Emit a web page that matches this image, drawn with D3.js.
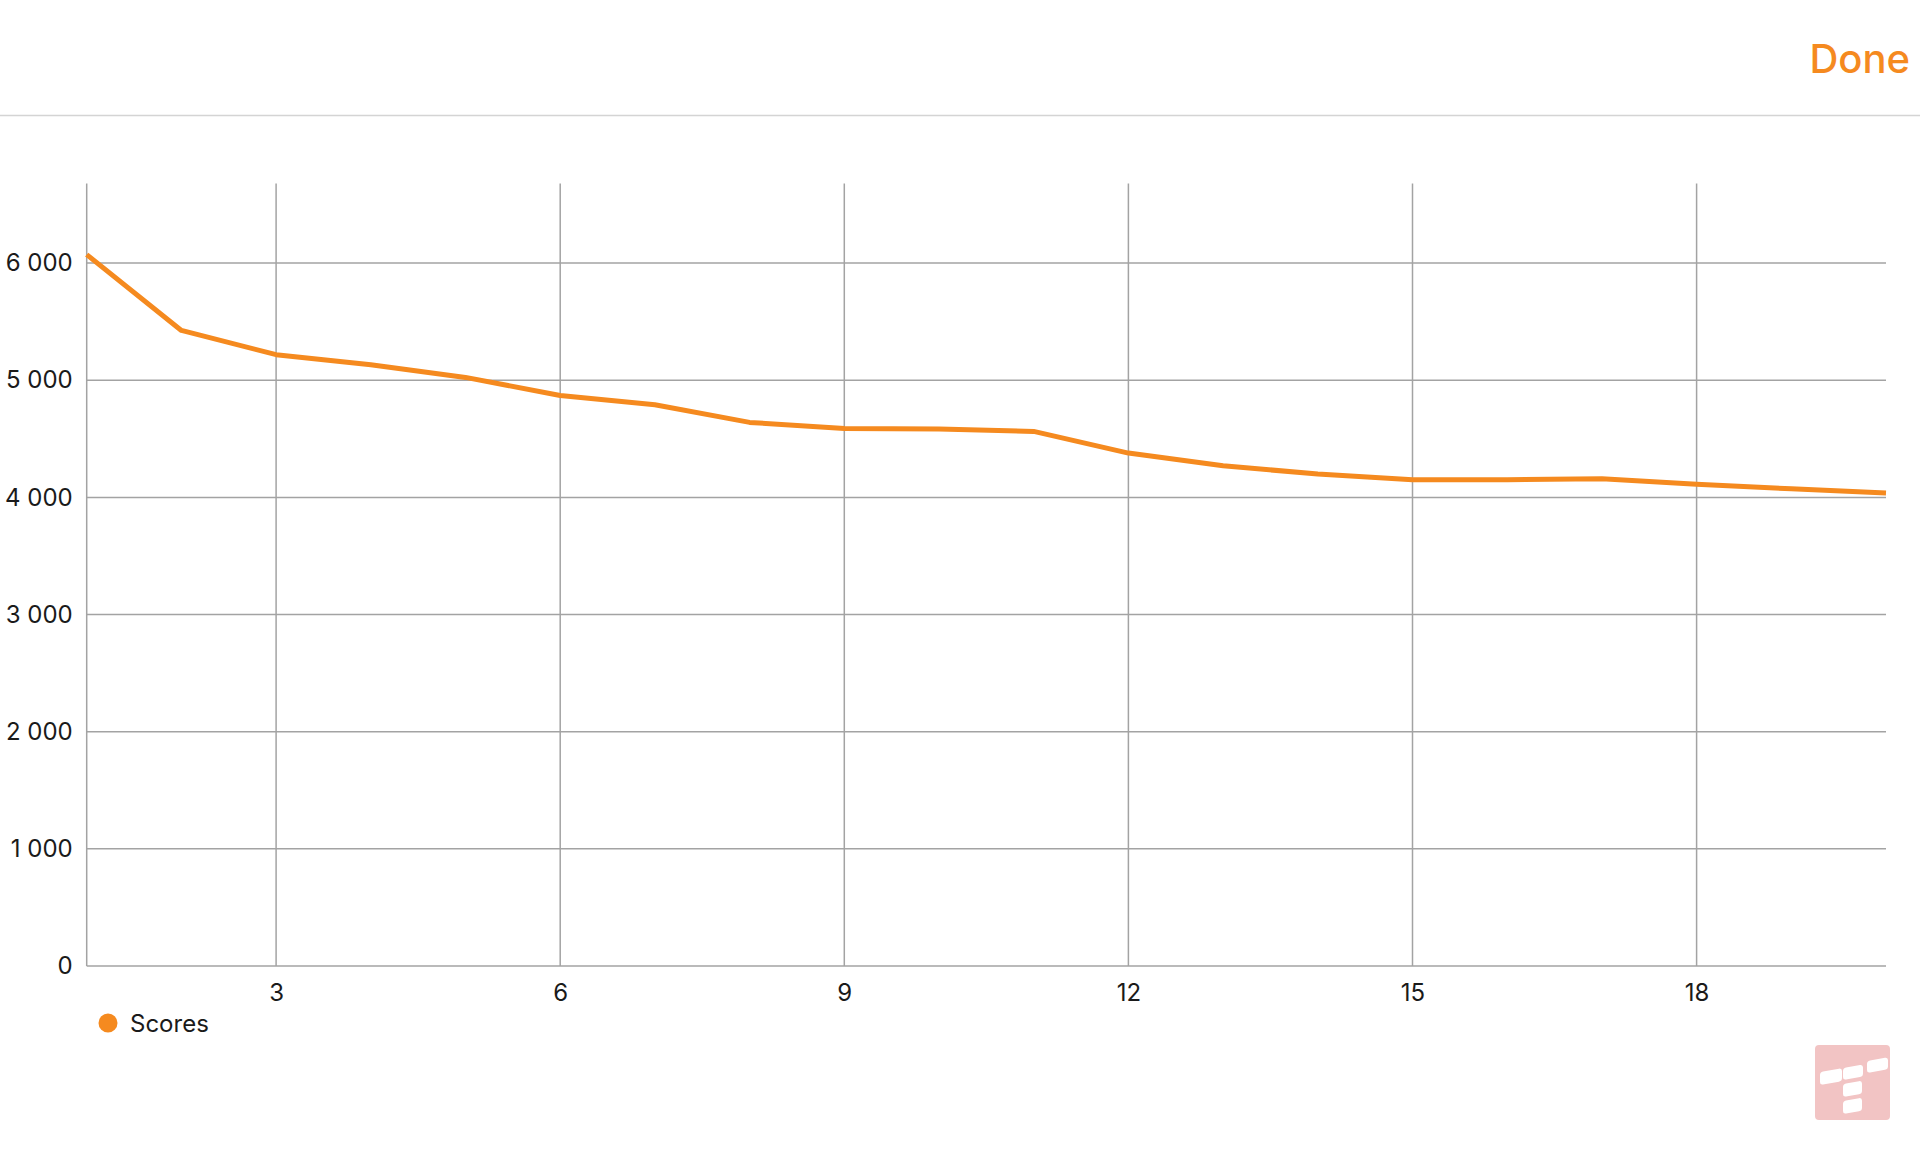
<!DOCTYPE html>
<html>
<head>
<meta charset="utf-8">
<script src="https://cdn.jsdelivr.net/npm/d3@7"></script>
<style>
    html, body { margin: 0; padding: 0; background: #fff; }
    svg { display: block; font-family: Inter, "Noto Sans", sans-serif; }
</style>
</head>
<body>
<div id="chart"></div>
<script>
// data
const rounds = [1, 2, 3, 4, 5, 6, 7, 8, 9, 10, 11, 12, 13, 14, 15, 16, 17, 18, 19, 20];
const scores = [6072, 5425, 5218, 5132, 5024, 4870, 4791, 4640, 4588, 4583,
                4563, 4378, 4270, 4199, 4150, 4150, 4159, 4113, 4073, 4037];
const xTicks = [3, 6, 9, 12, 15, 18];
const yTicks = [0, 1000, 2000, 3000, 4000, 5000, 6000];
const seriesName = "Scores";
const headerLabel = "Done";

const W = 1920, H = 1152;
const orange = "#f58a1f";
const gridColor = "#a3a3a3";

const margin = { top: 183.5, right: 34, bottom: 186, left: 86.7 };

const svg = d3.select("#chart").append("svg")
    .attr("width", W)
    .attr("height", H);

// HEADER
svg.append("text")
    .text(headerLabel)
    .attr("x", 1910)
    .attr("y", 73)
    .attr("text-anchor", "end")
    .style("font-size", "40px")
    .style("font-weight", 500)
    .style("fill", orange);

svg.append("line")
    .attr("x1", 0).attr("x2", W)
    .attr("y1", 115.5).attr("y2", 115.5)
    .style("stroke", "#d4d4d4")
    .style("stroke-width", 1.5);

// SCALES
const x = d3.scaleLinear()
    .domain([1, d3.max(rounds)])
    .range([margin.left, W - margin.right]);

const y = d3.scaleLinear()
    .domain([0, d3.max(scores) * 1.1])
    .range([H - margin.bottom, margin.top]);

// GRID
const grid = svg.append("g");

grid.selectAll(".hgrid").data(yTicks).enter()
    .append("line")
    .attr("class", "hgrid")
    .attr("x1", x.range()[0]).attr("x2", x.range()[1])
    .attr("y1", d => y(d)).attr("y2", d => y(d))
    .style("stroke", gridColor)
    .style("stroke-width", 1.5);

grid.selectAll(".vgrid").data([1].concat(xTicks)).enter()
    .append("line")
    .attr("class", "vgrid")
    .attr("x1", d => x(d)).attr("x2", d => x(d))
    .attr("y1", y.range()[1]).attr("y2", y.range()[0])
    .style("stroke", gridColor)
    .style("stroke-width", 1.5);

// AXES
const yAxis = svg.append("g")
    .attr("transform", "translate(" + margin.left + ",0)")
    .call(d3.axisLeft(y)
        .tickValues(yTicks)
        .tickSize(0)
        .tickPadding(14)
        .tickFormat(d => d3.format(",")(d).replace(/,/g, " ")));

const xAxis = svg.append("g")
    .attr("transform", "translate(0," + y(0) + ")")
    .call(d3.axisBottom(x)
        .tickValues(xTicks)
        .tickSize(0)
        .tickPadding(18));

[yAxis, xAxis].forEach(a => {
    a.select(".domain").remove();
    a.selectAll("text")
        .style("font-size", "24px")
        .style("font-family", "Inter, 'Noto Sans', sans-serif")
        .style("fill", "#1a1a1a");
});

// LINE
const line = d3.line()
    .x((d, i) => x(rounds[i]))
    .y(d => y(d));

svg.append("path")
    .datum(scores)
    .attr("d", line)
    .style("fill", "none")
    .style("stroke", orange)
    .style("stroke-width", 5)
    .style("stroke-linejoin", "round");

// LEGEND
const legend = svg.append("g")
    .attr("transform", "translate(108,1023)");

legend.append("circle")
    .attr("r", 9.5)
    .style("fill", orange);

legend.append("text")
    .text(seriesName)
    .attr("x", 22)
    .attr("y", 9)
    .style("font-size", "24px")
    .style("fill", "#1a1a1a");

// WATERMARK LOGO
const logo = svg.append("g")
    .attr("transform", "translate(1815,1045)");

logo.append("rect")
    .attr("width", 75).attr("height", 75)
    .attr("rx", 4)
    .style("fill", "#f2c4c4");

const blocks = [
    [5, 27, 22, 13], [28, 23, 20, 12], [52, 16, 21, 12],
    [28, 39, 19, 13], [28, 56, 19, 13]
];
logo.selectAll(".blk").data(blocks).enter()
    .append("rect")
    .attr("class", "blk")
    .attr("x", d => d[0]).attr("y", d => d[1])
    .attr("width", d => d[2]).attr("height", d => d[3])
    .attr("rx", 3)
    .attr("transform", d => "skewY(-10) translate(0," + (d[0] * 0.176) + ")")
    .style("fill", "#fff");
</script>
</body>
</html>
